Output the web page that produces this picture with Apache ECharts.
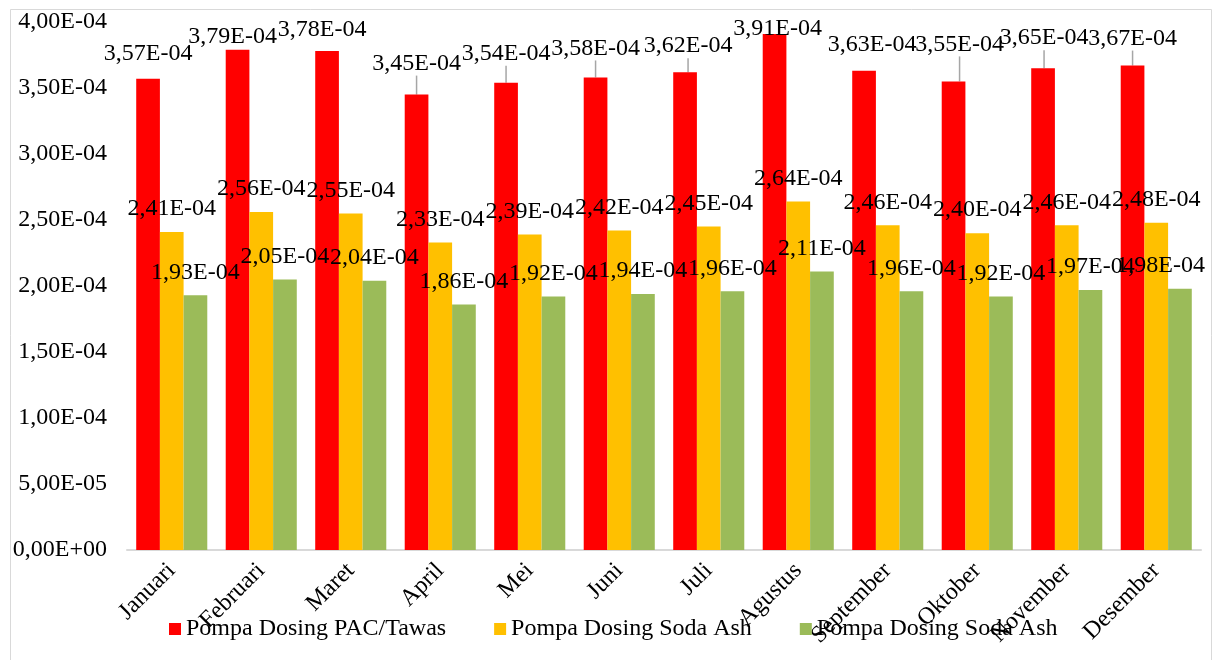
<!DOCTYPE html>
<html>
<head>
<meta charset="utf-8">
<script src="https://cdn.jsdelivr.net/npm/echarts@6/dist/echarts.min.js"></script>
<style>
  html, body { margin: 0; padding: 0; background: #fff; }
  #chart { width: 1213px; height: 660px; }
</style>
</head>
<body>
<div id="chart"></div>
<script>
// Monthly energy use per dosing pump
const months = ['Januari', 'Februari', 'Maret', 'April', 'Mei', 'Juni', 'Juli',
                'Agustus', 'September', 'Oktober', 'November', 'Desember'];
const pacTawas = [3.57e-4, 3.79e-4, 3.78e-4, 3.45e-4, 3.54e-4, 3.58e-4,
                  3.62e-4, 3.91e-4, 3.63e-4, 3.55e-4, 3.65e-4, 3.67e-4];
const sodaAsh1 = [2.41e-4, 2.56e-4, 2.55e-4, 2.33e-4, 2.39e-4, 2.42e-4,
                  2.45e-4, 2.64e-4, 2.46e-4, 2.40e-4, 2.46e-4, 2.48e-4];
const sodaAsh2 = [1.93e-4, 2.05e-4, 2.04e-4, 1.86e-4, 1.92e-4, 1.94e-4,
                  1.96e-4, 2.11e-4, 1.96e-4, 1.92e-4, 1.97e-4, 1.98e-4];
const seriesNames = ['Pompa Dosing PAC/Tawas', 'Pompa Dosing Soda Ash', 'Pompa Dosing Soda Ash '];

// Hand-placed labels on the tall bars: pixel nudge [dx, dy] and whether a leader line is drawn
const pacLabelNudge = [[0, -2], [-5, 10], [-5, 2], [0, -8], [0, -6], [0, -6],
                       [3, -3], [3, 18], [8, -3], [6, -14], [1, -7], [0, -4]];
const pacLeader = [false, false, false, true, true, true, true, false, false, true, true, true];

const FONT = 'Liberation Serif';
const FONT_SIZE = 24;
const LABEL_RIGHT_LIMIT = 1205;

// Scientific notation with decimal comma: 3,57E-04
function sci(v) {
  if (Math.abs(v) < 1e-12) return '0,00E+00';
  const parts = Number(v).toExponential(2).split('e');
  const exp = parseInt(parts[1], 10);
  return parts[0].replace('.', ',') + 'E' + (exp < 0 ? '-' : '+') +
         String(Math.abs(exp)).padStart(2, '0');
}

const valueLabel = {
  show: true,
  position: 'top',
  distance: 11,
  fontFamily: FONT,
  fontSize: FONT_SIZE,
  color: '#000',
  formatter: p => sci(p.value)
};

// keep value labels inside the chart frame
function keepInside(p) {
  const r = p.labelRect;
  const over = r.x + r.width - LABEL_RIGHT_LIMIT;
  return over > 0 ? { dx: -over } : {};
}

const chart = echarts.init(document.getElementById('chart'), null, { renderer: 'canvas' });

chart.setOption({
  animation: false,
  backgroundColor: '#fff',
  textStyle: { fontFamily: FONT },
  graphic: [{
    type: 'rect',
    left: 8, top: 7,
    silent: true,
    z: -10,
    shape: { width: 1201, height: 660 },
    style: { fill: 'none', stroke: '#d9d9d9', lineWidth: 1 }
  }],
  grid: { left: 127, right: 12, top: 22, bottom: 110, containLabel: false },
  legend: {
    left: 169,
    top: 617,
    padding: 0,
    icon: 'rect',
    itemWidth: 12,
    itemHeight: 12,
    itemGap: 48,
    data: seriesNames,
    formatter: name => name.trim(),
    textStyle: { fontFamily: FONT, fontSize: FONT_SIZE, color: '#000' }
  },
  xAxis: {
    type: 'category',
    data: months,
    axisLine: { show: true, lineStyle: { color: '#d9d9d9', width: 2 } },
    axisTick: { show: false },
    axisLabel: {
      rotate: 45,
      margin: 17,
      interval: 0,
      fontFamily: FONT,
      fontSize: FONT_SIZE,
      color: '#000'
    }
  },
  yAxis: {
    type: 'value',
    min: 0,
    max: 4e-4,
    interval: 5e-5,
    axisLine: { show: false },
    axisTick: { show: false },
    splitLine: { show: false },
    axisLabel: {
      margin: 20,
      fontFamily: FONT,
      fontSize: FONT_SIZE,
      color: '#000',
      formatter: v => sci(v)
    }
  },
  series: [
    {
      name: seriesNames[0],
      type: 'bar',
      barGap: '0%',
      barCategoryGap: '20.6%',
      itemStyle: { color: '#FF0000' },
      data: pacTawas.map((v, i) => ({ value: v, labelLine: { show: pacLeader[i] } })),
      label: valueLabel,
      labelLine: { show: true, lineStyle: { color: '#a6a6a6', width: 1.5 } },
      labelLayout: p => ({ dx: pacLabelNudge[p.dataIndex][0], dy: pacLabelNudge[p.dataIndex][1] })
    },
    {
      name: seriesNames[1],
      type: 'bar',
      barGap: '0%',
      barCategoryGap: '20.6%',
      itemStyle: { color: '#FFC000' },
      data: sodaAsh1,
      label: valueLabel,
      labelLayout: keepInside
    },
    {
      name: seriesNames[2],
      type: 'bar',
      barGap: '0%',
      barCategoryGap: '20.6%',
      itemStyle: { color: '#9BBB59' },
      data: sodaAsh2,
      label: valueLabel,
      labelLayout: keepInside
    }
  ]
});
</script>
</body>
</html>
